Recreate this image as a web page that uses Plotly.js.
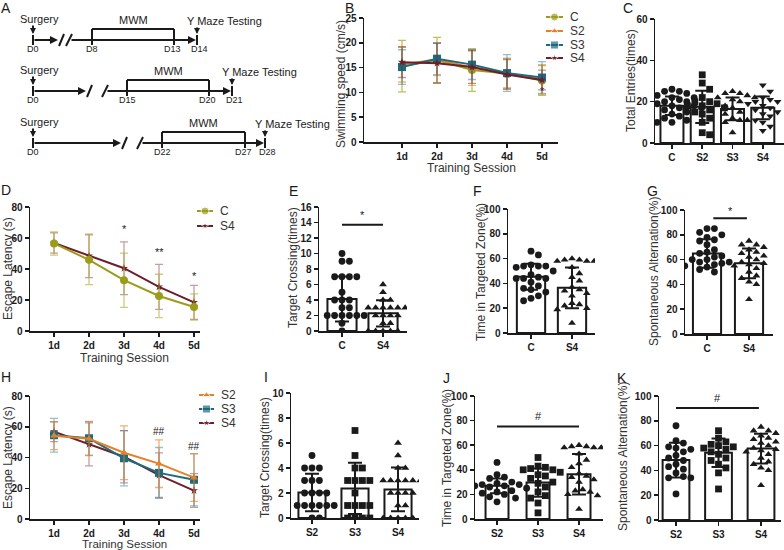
<!DOCTYPE html>
<html>
<head>
<meta charset="utf-8">
<script src="https://cdn.plot.ly/plotly-3.0.1.min.js"></script>
<style>
  html, body { margin: 0; padding: 0; background: #fff; }
  #fig { width: 784px; height: 550px; }
</style>
</head>
<body>
<div id="fig"></div>
<script>
// ---- data ----
const days = ["1d", "2d", "3d", "4d", "5d"];

// B: swimming speed (cm/s), mean and SD
const speedC = [15.3, 16.5, 14.5, 13.8, 12.4];
const speedSdC = [5.2, 4.6, 4.3, 3.0, 3.0];
const speedS2 = [15.6, 16.7, 15.0, 13.9, 12.6];
const speedSdS2 = [3.5, 3.3, 3.6, 3.0, 3.0];
const speedS3 = [15.1, 16.8, 15.6, 13.9, 13.0];
const speedSdS3 = [3.5, 3.2, 3.0, 3.7, 3.2];
const speedS4 = [16.1, 15.9, 15.1, 13.6, 12.5];
const speedSdS4 = [3.1, 4.0, 3.3, 3.0, 2.0];

// C: total entries
const entryCats = ["C", "S2", "S3", "S4"];
const entryMeans = [18.0, 17.5, 16.5, 17.0];
const entrySds = [4.5, 7.8, 5.5, 5.5];
const entriesC = [26, 25, 25, 24, 23, 22, 22, 21, 20, 20, 19, 19, 18, 18, 17, 17, 16, 15, 14, 13, 12, 11, 10, 10];
const entriesS2 = [33, 29, 26, 22, 20, 20, 19, 18, 18, 17, 16, 15, 14, 12, 10, 5, 4];
const entriesS3 = [25, 24, 24, 23, 22, 22, 21, 20, 18, 17, 15, 14, 12, 11, 11, 10, 5];
const entriesS4 = [28, 25, 22, 21, 20, 20, 19, 18, 17, 16, 15, 14, 13, 11, 10, 8, 6];

// D / H: escape latency (s)
const latC = [56.5, 45.9, 32.8, 22.6, 15.5];
const latSdC = [7.5, 16.0, 17.5, 14.0, 8.5];
const latS2 = [54.1, 52.2, 43.1, 36.0, 26.9];
const latSdS2 = [9.0, 11.0, 17.5, 15.5, 15.5];
const latS3 = [54.5, 52.5, 39.5, 30.0, 25.5];
const latSdS3 = [11.0, 11.0, 18.0, 16.5, 17.0];
const latS4 = [56.8, 48.5, 40.5, 28.5, 18.5];
const latSdS4 = [6.5, 14.0, 17.0, 14.5, 11.0];

// E / I: target crossing (times)
const crossC = [10, 9, 9, 7, 7, 7, 7, 5, 4, 4, 4, 3, 3, 2, 2, 2, 2, 2, 2, 1, 0];
const crossS2 = [5, 4, 4, 4, 3, 3, 3, 2, 2, 2, 2, 1, 1, 1, 1, 1, 1, 0, 0];
const crossS3 = [7, 5, 4, 4, 3, 3, 3, 3, 2, 1, 1, 1, 1, 0, 0, 0, 0];
const crossS4 = [6, 5, 4, 4, 3, 3, 3, 3, 3, 3, 2, 2, 2, 2, 1, 1, 0, 0, 0, 0, 0];
const crossMeansCS4 = [4.14, 2.28];
const crossSdsCS4 = [2.9, 1.7];
const crossMeansS = [2.04, 2.36, 2.28];
const crossSdsS = [1.5, 2.05, 1.75];

// F / J: time in targeted zone (%)
const zoneC = [66, 63, 55, 54, 54, 54, 53, 50, 47, 45, 44, 44, 44, 41, 38, 36, 35, 33, 30, 28, 26];
const zoneS2 = [46, 36, 34, 33, 30, 29, 28, 28, 27, 27, 26, 25, 24, 23, 22, 21, 20, 18, 17, 14];
const zoneS3 = [50, 43, 42, 41, 40, 40, 38, 36, 35, 33, 30, 29, 26, 22, 19, 17, 13, 5];
const zoneS4 = [60, 59, 59, 58, 58, 58, 53, 48, 45, 42, 37, 35, 34, 32, 30, 24, 23, 22, 20, 19, 8];
const zoneMeansCS4 = [45.3, 36.4];
const zoneSdsCS4 = [10.5, 16.5];
const zoneMeansS = [27.0, 29.6, 36.4];
const zoneSdsS = [6.0, 11.5, 16.5];

// G / K: spontaneous alternation (%)
const altC = [85, 85, 82, 80, 78, 76, 75, 72, 68, 66, 65, 63, 62, 60, 60, 58, 58, 57, 56, 55, 54, 52, 50];
const altS2 = [76, 64, 62, 59, 58, 57, 55, 52, 50, 48, 45, 43, 41, 38, 35, 34, 34, 21];
const altS3 = [72, 66, 63, 61, 60, 59, 58, 57, 55, 53, 50, 48, 45, 42, 38, 25];
const altS4 = [75, 72, 72, 70, 68, 66, 65, 63, 62, 60, 58, 57, 56, 55, 53, 50, 47, 45, 42, 40, 28];
const altMeansCS4 = [65.0, 57.0];
const altSdsCS4 = [11.5, 12.0];
const altMeansS = [48.3, 54.2, 57.6];
const altSdsS = [14.0, 11.5, 12.0];

// A: timeline labels
const surgeryDays = ["D0", "D0", "D0"];
const mwmStartDays = ["D8", "D15", "D22"];
const mwmEndDays = ["D13", "D20", "D27"];
const testDays = ["D14", "D21", "D28"];

// ---- drawing ----
const W = 784, H = 550;
const FONT = "Liberation Sans, Arial, sans-serif";
const INK = "#1a1a1a";
const colC = "#9c9c1c", colS2 = "#e3812a", colS3 = "#1d6c7e", colS4 = "#6c1e2a";

const traces = [];
const annotations = [];
const shapes = [];
const layout = {
  width: W, height: H,
  margin: { l: 0, r: 0, t: 0, b: 0 },
  paper_bgcolor: "#fff",
  plot_bgcolor: "rgba(0,0,0,0)",
  showlegend: false,
  font: { family: FONT, color: INK }
};

const axisBase = {
  showline: true, linecolor: INK, linewidth: 1.5,
  ticks: "outside", ticklen: 4, tickwidth: 1.5, tickcolor: INK,
  tickfont: { family: FONT, size: 10, color: INK, weight: "bold" },
  showgrid: false, zeroline: false, fixedrange: true
};

function makeAxes(n, px, py, xr, ymax, ydtick, xlabels) {
  const s = String(n);
  layout["xaxis" + s] = Object.assign({}, axisBase, {
    domain: [px[0] / W, px[1] / W], range: xr, anchor: "y" + s,
    tickmode: "array", tickvals: xlabels.map((_, i) => i), ticktext: xlabels
  });
  layout["yaxis" + s] = Object.assign({}, axisBase, {
    domain: [1 - py[1] / H, 1 - py[0] / H], range: [0, ymax], anchor: "x" + s,
    tick0: 0, dtick: ydtick
  });
  return {
    xa: "x" + s, ya: "y" + s,
    pxX: (px[1] - px[0]) / (xr[1] - xr[0]),
    pxY: (py[1] - py[0]) / ymax
  };
}

// spread equal-ish values sideways like a scatter dot plot
function swarm(vals, center, ax) {
  const d = 7.4, placed = [];
  return vals.map((v) => {
    const y = v * ax.pxY;
    let off = 0;
    for (let k = 0; k < 80; k++) {
      const o = (k % 2 ? 1 : -1) * Math.ceil(k / 2) * d / 2;
      if (placed.every((p) => Math.hypot(p[0] - o, p[1] - y) >= d)) { off = o; break; }
    }
    placed.push([off, y]);
    return center + off / ax.pxX;
  });
}

function barPanel(ax, cats, means, sds, groups, symbols, barW) {
  const idx = cats.map((_, i) => i);
  traces.push({
    type: "bar", x: idx, y: means, width: barW, xaxis: ax.xa, yaxis: ax.ya,
    marker: { color: "#fff", line: { color: INK, width: 2 } }, hoverinfo: "skip"
  });
  groups.forEach((vals, i) => {
    traces.push({
      type: "scatter", mode: "markers", x: swarm(vals, i, ax), y: vals,
      xaxis: ax.xa, yaxis: ax.ya,
      marker: { symbol: symbols[i], size: 6.8, color: INK }, hoverinfo: "skip"
    });
  });
  traces.push({
    type: "scatter", mode: "markers", x: idx, y: means, xaxis: ax.xa, yaxis: ax.ya,
    marker: { size: 2, color: "rgba(0,0,0,0)" },
    error_y: { type: "data", array: sds, visible: true, color: INK, thickness: 2, width: 7 },
    hoverinfo: "skip"
  });
}

function sigLine(ax, a, b, yv, ytxt, label) {
  traces.push({
    type: "scatter", mode: "lines", x: [a, b], y: [yv, yv], xaxis: ax.xa, yaxis: ax.ya,
    line: { color: INK, width: 2 }, hoverinfo: "skip"
  });
  annotations.push({ xref: ax.xa, yref: ax.ya, x: (a + b) / 2, y: ytxt, text: label,
    showarrow: false, font: { family: FONT, size: 11, color: INK } });
}

function linePanel(ax, series) {
  series.forEach((s) => {
    traces.push({
      type: "scatter", mode: "lines+markers", x: days.map((_, i) => i), y: s.y,
      xaxis: ax.xa, yaxis: ax.ya,
      line: { color: s.color, width: 2 },
      marker: { symbol: s.symbol, size: s.size, color: s.color },
      error_y: { type: "data", array: s.sd, visible: true, color: s.err, thickness: 1.3, width: 4 },
      hoverinfo: "skip"
    });
  });
}

// base axis in pixel units, for diagram, legends and labels
layout.xaxis = { domain: [0, 1], range: [0, W], visible: false, fixedrange: true, anchor: "y" };
layout.yaxis = { domain: [0, 1], range: [H, 0], visible: false, fixedrange: true, anchor: "x" };
const P = { xref: "x", yref: "y" };

function text(x, y, t, size, extra) {
  annotations.push(Object.assign({}, P, { x, y, text: t, showarrow: false,
    font: { family: FONT, size, color: INK } }, extra || {}));
}
function arrow(x0, y0, x1, y1, sz) {
  annotations.push(Object.assign({}, P, { x: x1, y: y1, ax: x0, ay: y0, axref: "x", ayref: "y",
    text: "", showarrow: true, arrowhead: 2, arrowsize: sz || 0.8, arrowwidth: 2, arrowcolor: INK, standoff: 0 }));
}
function seg(x0, y0, x1, y1) {
  shapes.push({ type: "line", xref: "x", yref: "y", x0, y0, x1, y1,
    line: { color: INK, width: 2 } });
}

// ---- B ----
const axB = makeAxes(12, [364, 558], [18, 142], [-1.086, 4.457], 25, 5, days);
linePanel(axB, [
  { y: speedC, sd: speedSdC, color: colC, err: "rgba(170,170,40,0.75)", symbol: "circle", size: 8 },
  { y: speedS2, sd: speedSdS2, color: colS2, err: "rgba(230,130,45,0.6)", symbol: "triangle-up", size: 7 },
  { y: speedS3, sd: speedSdS3, color: colS3, err: "rgba(40,130,150,0.5)", symbol: "square", size: 8 },
  { y: speedS4, sd: speedSdS4, color: colS4, err: "rgba(120,40,50,0.5)", symbol: "star", size: 6 }
]);
annotations.push({ xref: axB.xa, yref: axB.ya, x: 4, y: 10.3, text: "*", showarrow: false,
  font: { family: FONT, size: 11, color: colS4 } });

// ---- C ----
const axC = makeAxes(2, [655, 784], [19, 143], [-0.56, 3.7], 60, 20, entryCats);
barPanel(axC, entryCats, entryMeans, entrySds, [entriesC, entriesS2, entriesS3, entriesS4],
  ["circle", "square", "triangle-up", "triangle-down"], 0.76);

// ---- D ----
const axD = makeAxes(3, [30, 200], [207, 331], [-0.686, 4.171], 80, 20, days);
linePanel(axD, [
  { y: latS4, sd: latSdS4, color: colS4, err: "rgba(140,60,70,0.5)", symbol: "star", size: 6 },
  { y: latC, sd: latSdC, color: colC, err: "rgba(170,170,40,0.6)", symbol: "circle", size: 8 }
]);
[[2, 66, "*"], [3, 51, "**"], [4, 35.5, "*"]].forEach(([x, y, t]) =>
  annotations.push({ xref: axD.xa, yref: axD.ya, x, y, text: t, showarrow: false,
    font: { family: FONT, size: 11, color: INK } }));

// ---- E ----
const axE = makeAxes(4, [319, 407], [207, 331], [-0.561, 1.585], 16, 2, ["C", "S4"]);
barPanel(axE, ["C", "S4"], crossMeansCS4, crossSdsCS4, [crossC, crossS4], ["circle", "triangle-up"], 0.71);
sigLine(axE, 0, 1, 13.7, 15.0, "*");

// ---- F ----
const axF = makeAxes(5, [508, 595], [209, 333], [-0.561, 1.561], 100, 20, ["C", "S4"]);
barPanel(axF, ["C", "S4"], zoneMeansCS4, zoneSdsCS4, [zoneC, zoneS4], ["circle", "triangle-up"], 0.69);

// ---- G ----
const axG = makeAxes(6, [685, 773], [210, 334], [-0.524, 1.571], 100, 20, ["C", "S4"]);
barPanel(axG, ["C", "S4"], altMeansCS4, altSdsCS4, [altC, altS4], ["circle", "triangle-up"], 0.67);
sigLine(axG, 0.15, 0.95, 93.3, 99, "*");

// ---- H ----
const axH = makeAxes(7, [30, 200], [396, 519], [-0.686, 4.171], 80, 20, days);
linePanel(axH, [
  { y: latS4, sd: latSdS4, color: colS4, err: "rgba(140,60,70,0.5)", symbol: "star", size: 6 },
  { y: latS3, sd: latSdS3, color: colS3, err: "rgba(40,130,150,0.5)", symbol: "square", size: 8 },
  { y: latS2, sd: latSdS2, color: colS2, err: "rgba(230,130,45,0.65)", symbol: "triangle-up", size: 7 }
]);
[[3, 57, "##"], [4, 47, "##"]].forEach(([x, y, t]) =>
  annotations.push({ xref: axH.xa, yref: axH.ya, x, y, text: t, showarrow: false,
    font: { family: FONT, size: 10, color: INK } }));

// ---- I ----
const sCats = ["S2", "S3", "S4"];
const axI = makeAxes(8, [291, 419], [393, 518], [-0.488, 2.488], 10, 2, sCats);
barPanel(axI, sCats, crossMeansS, crossSdsS, [crossS2, crossS3, crossS4], ["circle", "square", "triangle-up"], 0.63);

// ---- J ----
const axJ = makeAxes(9, [475, 603], [396, 519], [-0.537, 2.585], 100, 20, sCats);
barPanel(axJ, sCats, zoneMeansS, zoneSdsS, [zoneS2, zoneS3, zoneS4], ["circle", "square", "triangle-up"], 0.56);
sigLine(axJ, 0, 2, 75.2, 84, "#");

// ---- K ----
const axK = makeAxes(10, [659, 781], [396, 520], [-0.4, 2.47], 100, 20, sCats);
barPanel(axK, sCats, altMeansS, altSdsS, [altS2, altS3, altS4], ["circle", "square", "triangle-up"], 0.63);
sigLine(axK, 0, 1.95, 90.3, 98, "#");

// ---- axis titles ----
const TT = { family: FONT, size: 12, color: "#333" };
const ytitles = [
  ["Swimming speed (cm/s)", 341, 84], ["Total Entries(times)", 631, 81],
  ["Escape Latency (s)", 8, 269], ["Target Crossing(times)", 293, 268],
  ["Time in Targeted Zone(%)", 481, 272], ["Spontaneous Alternation(%)", 654, 272],
  ["Escape Latency (s)", 8, 458], ["Target Crossing(times)", 265, 458],
  ["Time in Targeted Zone(%)", 447, 458], ["Spontaneous Alternation(%)", 623, 457]
];
ytitles.forEach(([t, x, y]) => text(x, y, t, 12, { textangle: -90, font: TT }));
[[471, 168, 12], [124, 358, 12], [124, 543.5, 11.5]].forEach(([x, y, sz]) =>
  text(x, y, "Training Session", sz, { font: Object.assign({}, TT, { size: sz }) }));

// ---- panel letters ----
[["A", 6, 8], ["B", 349, 8], ["C", 628, 8], ["D", 6, 190], ["E", 293, 191], ["F", 477, 191],
 ["G", 652, 191], ["H", 6, 377], ["I", 266, 377], ["J", 446, 378], ["K", 622, 378]]
  .forEach(([t, x, y]) => text(x, y, t, 14));

// ---- legends (drawn by hand, tight spacing) ----
function legendItem(x0, x1, y, color, symbol, size, label) {
  traces.push({ type: "scatter", mode: "lines+markers", x: [x0, (x0 + x1) / 2, x1], y: [y, y, y],
    xaxis: "x", yaxis: "y", line: { color, width: 2 },
    marker: { symbol, size: [0, size, 0], color }, hoverinfo: "skip" });
  text(x1 + 5, y, label, 12, { xanchor: "left", font: { family: FONT, size: 12, color: "#333" } });
}
legendItem(546, 563, 17, colC, "circle", 8, "C");
legendItem(546, 563, 31, colS2, "triangle-up", 7, "S2");
legendItem(546, 563, 45, colS3, "square", 8, "S3");
legendItem(546, 563, 58, colS4, "star", 6, "S4");
legendItem(197, 213, 211, colC, "circle", 8, "C");
legendItem(197, 213, 226, colS4, "star", 6, "S4");
legendItem(199, 214, 395, colS2, "triangle-up", 7, "S2");
legendItem(199, 214, 409, colS3, "square", 8, "S3");
legendItem(199, 214, 423, colS4, "star", 6, "S4");

// ---- A: timeline schematic ----
const rowY = [40, 91, 143];
const startX = 33;
const breakAX = [58, 86, 121];
const breakBX = [66, 102, 137];
const mwmStartX = [92, 127, 162];
const mwmEndX = [174, 209, 245];
const testX = [197, 232, 265];
rowY.forEach((ry, r) => {
  seg(startX, ry - 5, startX, ry + 5);
  arrow(startX, ry, breakAX[r], ry, 0.8);
  seg(breakAX[r] + 1, ry + 6, breakAX[r] + 6, ry - 6);
  seg(breakBX[r], ry + 6, breakBX[r] + 6, ry - 6);
  arrow(breakBX[r] + 4, ry, testX[r] - 1, ry, 0.8);
  seg(testX[r], ry - 5, testX[r], ry + 5);
  seg(mwmStartX[r], ry + 5, mwmStartX[r], ry - 11);
  seg(mwmStartX[r], ry - 11, mwmEndX[r], ry - 11);
  seg(mwmEndX[r], ry - 11, mwmEndX[r], ry + 5);
  arrow(startX, ry - 16, startX, ry - 6, 0.6);
  arrow(testX[r], ry - 14, testX[r], ry - 6, 0.6);
  text(startX + 6, ry - 21, "Surgery", 11);
  text((mwmStartX[r] + mwmEndX[r]) / 2, ry - 20, "MWM", 11);
  text(testX[r] + 27, ry - 19, "Y Maze Testing", 11);
  text(startX, ry + 9, surgeryDays[r], 9);
  text(mwmStartX[r], ry + 9, mwmStartDays[r], 9);
  text(mwmEndX[r] - 2, ry + 9, mwmEndDays[r], 9);
  text(testX[r] + 2, ry + 9, testDays[r], 9);
});

layout.annotations = annotations;
layout.shapes = shapes;

Plotly.newPlot("fig", traces, layout, { staticPlot: true, displayModeBar: false });
</script>
</body>
</html>
